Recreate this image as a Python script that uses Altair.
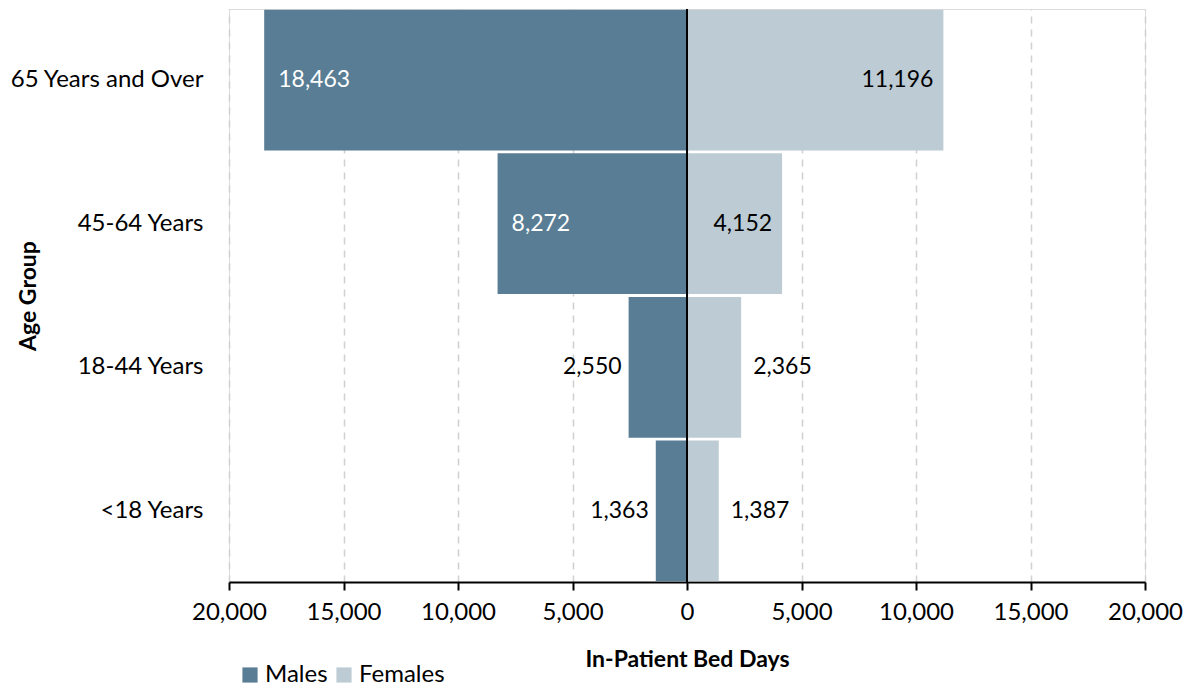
import altair as alt
import pandas as pd

age_groups = ["65 Years and Over", "45-64 Years", "18-44 Years", "<18 Years"]
males = [18463, 8272, 2550, 1363]
females = [11196, 4152, 2365, 1387]
sexes = ["Males", "Females"]
colors = ["#587D94", "#BCCBD4"]
x_ticks = [-20000, -15000, -10000, -5000, 0, 5000, 10000, 15000, 20000]

rows = []
for a, m, f in zip(age_groups, males, females):
    rows.append({"age": a, "sex": "Males", "value": m, "signed": -m, "inside": m > 3000})
    rows.append({"age": a, "sex": "Females", "value": f, "signed": f, "inside": f > 3000})
df = pd.DataFrame(rows)

FONT = "Lato"
FS = 24
W, H = 916, 573

y_enc = alt.Y("age:N", sort=age_groups,
              scale=alt.Scale(paddingInner=0.02, paddingOuter=0.005),
              axis=alt.Axis(title="Age Group", titleFont=FONT, titleFontSize=FS - 1,
                            titleFontWeight="bold", titleColor="black",
                            titleAngle=-90, titleX=-201, titleY=H / 2, titleAlign="center",
                            titleBaseline="middle",
                            labelFont=FONT, labelFontSize=FS, labelColor="black",
                            labelLimit=400,
                            labelPadding=26, ticks=False, domain=False, grid=False))

x_scale = alt.Scale(domain=[-20000, 20000], nice=False, zero=False)

bars = alt.Chart(df).mark_bar().encode(
    x=alt.X("signed:Q", scale=x_scale,
            axis=alt.Axis(values=x_ticks, labelExpr="format(abs(datum.value), ',')",
                          title="In-Patient Bed Days", titleFont=FONT, titleFontSize=FS - 1,
                          titleFontWeight="bold", titleColor="black", titlePadding=24,
                          labelFont=FONT, labelFontSize=FS, labelColor="black", labelPadding=10,
                          labelFlush=False, labelOverlap=False,
                          tickSize=8, tickColor="black", tickWidth=2,
                          domainColor="black", domainWidth=2,
                          grid=True, gridColor="#D0D0D0", gridDash=[7, 6], gridWidth=1.5)),
    y=y_enc,
    color=alt.Color("sex:N", scale=alt.Scale(domain=sexes, range=colors),
                    legend=alt.Legend(title=None, orient="none", legendX=9, legendY=654,
                                      direction="horizontal", symbolType="square",
                                      symbolSize=230, symbolStrokeWidth=0,
                                      labelFont=FONT, labelFontSize=FS, labelColor="black",
                                      columnPadding=4, labelOffset=3)),
)

def labels(sex, inside, align, dx, color):
    return alt.Chart(df).transform_filter(
        (alt.datum.sex == sex) & (alt.datum.inside == inside)
    ).mark_text(align=align, baseline="middle", dx=dx, font=FONT, fontSize=FS - 1, color=color).encode(
        x=alt.X("signed:Q", scale=x_scale),
        y=alt.Y("age:N", sort=age_groups),
        text=alt.Text("value:Q", format=","),
    )

zero = alt.Chart(pd.DataFrame({"z": [0]})).mark_rule(color="black", strokeWidth=2).encode(
    x=alt.X("z:Q", scale=x_scale)
)

chart = alt.layer(
    bars,
    zero,
    labels("Males", True, "left", 14, "white"),
    labels("Females", True, "right", -10, "black"),
    labels("Males", False, "right", -7, "black"),
    labels("Females", False, "left", 12, "black"),
).properties(
    width=W, height=H,
    autosize=alt.AutoSizeParams(type="none"),
    padding={"left": 221, "top": 1, "right": 40, "bottom": 106},
).configure_view(stroke="#999999", strokeWidth=2).configure(background="white")

chart.save("out.html", embed_options={"renderer": "svg", "actions": False})
